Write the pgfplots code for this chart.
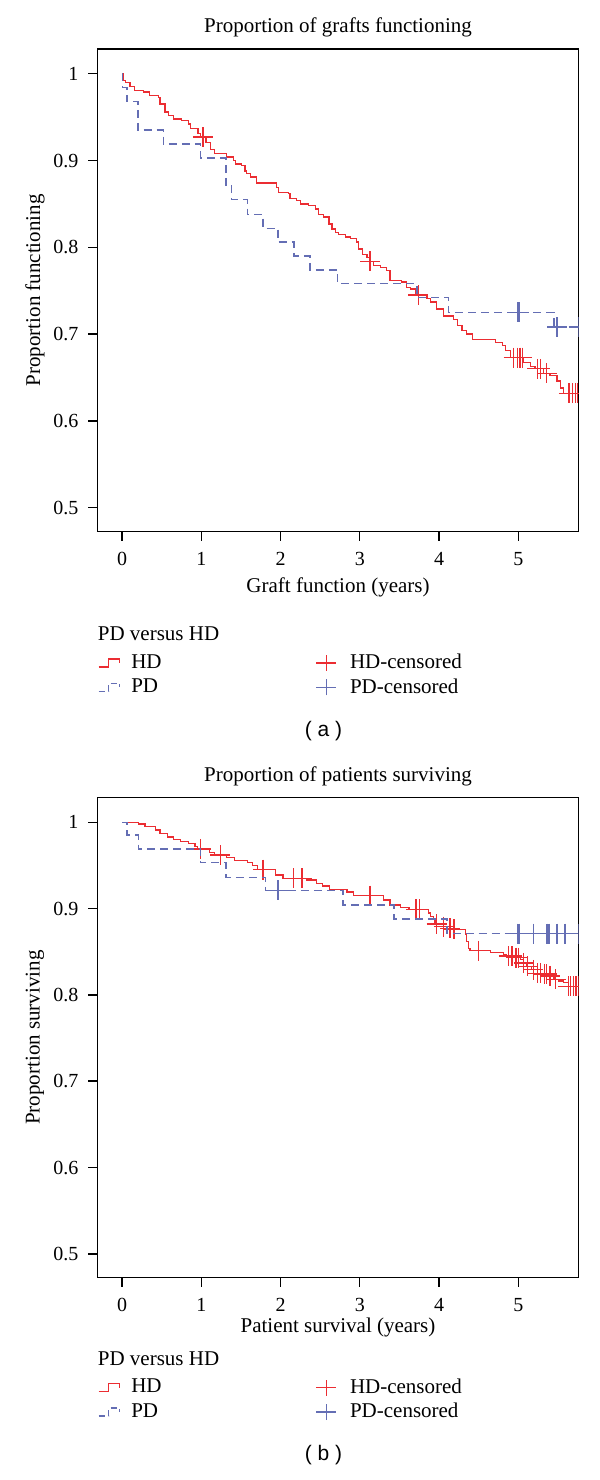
\documentclass[border=0pt]{standalone}
\usepackage{fontspec}
\setmainfont{Liberation Serif}
\newfontfamily\sansf{Liberation Sans}
\usepackage{pgfplots}
\pgfplotsset{compat=1.18}
\definecolor{hdred}{RGB}{235,45,50}
\definecolor{pdblue}{RGB}{100,110,180}
\newcommand{\fs}{\fontsize{10.5}{12.6}\selectfont}
\pgfplotsset{
  kmaxis/.style={
    scale only axis, width=240.5pt,
    xmin=-0.31, xmax=5.76, ymin=0.4725, ymax=1.0285,
    xtick={0,1,2,3,4,5}, xticklabels={0,1,2,3,4,5},
    ytick={0.5,0.6,0.7,0.8,0.9,1}, yticklabels={0.5,0.6,0.7,0.8,0.9,1},
    tick align=outside, major tick length=4.5pt,
    xtick pos=bottom, ytick pos=left,
    axis line style={line width=0.7pt},
    every tick/.style={black, line width=0.7pt},
    tick label style={font=\fontsize{10}{12}\selectfont},
    xticklabel style={yshift=-2.5pt},
    yticklabel style={xshift=-1.5pt},
    label style={font=\fs},
    xlabel style={anchor=center},
    ylabel style={at={(axis description cs:-0.13,0.5)}, anchor=center},
    clip marker paths=true,
    legend columns=2,
    legend cell align=left,
    legend style={draw=none, fill=none, font=\fs, anchor=north west, inner sep=0pt,
      nodes={inner sep=0pt, text depth=0.15em},
      /tikz/every even column/.append style={column sep=77pt}, row sep=3.5pt},
  },
  hdline/.style={hdred, line width=0.65pt, const plot, mark=none,
    legend image code/.code={\draw[hdred, line width=0.65pt] (0pt,-2pt) -- (5pt,-2pt) -- (5pt,2pt) -- (10.5pt,2pt) -- (10.5pt,0pt);
      \path (0pt,-4pt) (16pt,4pt);}},
  pdline/.style={pdblue, line width=0.7pt, const plot, mark=none, dash pattern=on 4pt off 2.5pt,
    legend image code/.code={\draw[pdblue, line width=0.7pt, dash pattern=on 3pt off 2pt] (0pt,-2pt) -- (5pt,-2pt) -- (5pt,2pt) -- (10.5pt,2pt) -- (10.5pt,0pt);
      \path (0pt,-4pt) (16pt,4pt);}},
  hdcens/.style={hdred, line width=0.65pt, only marks, mark=+, mark size=5pt,
    legend image code/.code={\draw[hdred, line width=0.65pt] (0pt,0pt) -- (10pt,0pt) (5pt,-4pt) -- (5pt,4pt);
      \path (0pt,-4pt) (16.5pt,4pt);}},
  pdcens/.style={pdblue, line width=0.7pt, only marks, mark=+, mark size=5pt,
    legend image code/.code={\draw[pdblue, line width=0.7pt] (0pt,0pt) -- (10pt,0pt) (5pt,-4pt) -- (5pt,4pt);
      \path (0pt,-4pt) (16.5pt,4pt);}},
}
\begin{document}
\begin{tikzpicture}
\useasboundingbox (0,0) rectangle (300pt,740pt);
% ---------------- Panel (a)
\begin{axis}[kmaxis, at={(48.75pt,474.2pt)}, anchor=south west, height=241.3pt,
  xlabel={Graft function (years)}, ylabel={Proportion functioning},
  xlabel style={at={(axis description cs:0.5,-0.116)}},
  legend style={at={(axis description cs:0,-0.253)}},
  extra description/.code={
    \node[font=\fs] at (axis description cs:0.5,1.045) {Proportion of grafts functioning};
    \node[font=\fs, anchor=west, inner sep=0pt] at (axis description cs:0,-0.212) {PD versus HD};
    \node[font=\sansf\fontsize{10.5}{12.6}\selectfont] at (axis description cs:0.47,-0.414) {( a )};
  }]
\addplot[hdline] coordinates {
(0,1) (0.01,0.992) (0.04,0.990) (0.10,0.985) (0.16,0.981) (0.27,0.979) (0.35,0.975)
(0.46,0.973) (0.48,0.965) (0.54,0.956) (0.585,0.952) (0.65,0.948) (0.75,0.946)
(0.84,0.942) (0.86,0.937) (0.96,0.931) (0.99,0.927) (1.06,0.921) (1.12,0.913)
(1.17,0.908) (1.32,0.904) (1.41,0.900) (1.43,0.896) (1.51,0.894) (1.55,0.888)
(1.57,0.885) (1.62,0.881) (1.70,0.874) (1.95,0.869) (1.97,0.863) (2.10,0.862)
(2.12,0.856) (2.20,0.854) (2.25,0.850) (2.35,0.848) (2.44,0.844) (2.48,0.838)
(2.54,0.835) (2.61,0.827) (2.65,0.821) (2.69,0.817) (2.73,0.815) (2.82,0.812)
(2.88,0.810) (2.96,0.806) (2.98,0.798) (3.03,0.792) (3.09,0.788) (3.12,0.784)
(3.17,0.779) (3.26,0.777) (3.34,0.773)
(3.38,0.762) (3.53,0.760) (3.59,0.754) (3.64,0.752) (3.70,0.745) (3.85,0.741)
(3.89,0.737) (3.97,0.729) (4.06,0.721) (4.18,0.717) (4.23,0.710) (4.29,0.704)
(4.35,0.700) (4.42,0.694) (4.71,0.690) (4.80,0.687) (4.84,0.681) (4.90,0.673)
(5.07,0.667) (5.15,0.663) (5.21,0.660) (5.32,0.655) (5.40,0.652) (5.49,0.646)
(5.53,0.638) (5.57,0.632) (5.76,0.632)};
\addlegendentry{HD}
\addplot[hdcens] coordinates {
(1.02,0.927) (3.13,0.784) (3.74,0.745) (4.94,0.673) (4.99,0.673) (5.02,0.673)
(5.05,0.673) (5.24,0.660) (5.28,0.660) (5.36,0.655) (5.64,0.632) (5.68,0.632)
(5.72,0.632) (5.75,0.632)};
\addlegendentry{HD-censored}
\addplot[pdline] coordinates {
(0,1) (0.005,0.984) (0.06,0.968) (0.20,0.935) (0.52,0.919) (0.99,0.903)
(1.31,0.871) (1.38,0.855) (1.58,0.838) (1.78,0.822) (1.97,0.806) (2.17,0.790)
(2.37,0.774) (2.72,0.758) (3.72,0.742) (4.12,0.725) (5.45,0.708) (5.76,0.708)};
\addlegendentry{PD}
\addplot[pdcens] coordinates {
(4.99,0.725) (5.01,0.725) (5.49,0.708) (5.76,0.708)};
\addlegendentry{PD-censored}
\end{axis}
% ---------------- Panel (b)
\begin{axis}[kmaxis, at={(48.75pt,101.2pt)}, anchor=south west, height=240pt,
  xlabel={Patient survival (years)}, ylabel={Proportion surviving},
  xlabel style={at={(axis description cs:0.5,-0.104)}},
  legend style={at={(axis description cs:0,-0.21)}},
  extra description/.code={
    \node[font=\fs] at (axis description cs:0.5,1.045) {Proportion of patients surviving};
    \node[font=\fs, anchor=west, inner sep=0pt] at (axis description cs:0,-0.168) {PD versus HD};
    \node[font=\sansf\fontsize{10.5}{12.6}\selectfont] at (axis description cs:0.47,-0.37) {( b )};
  }]
\addplot[hdline] coordinates {
(0,1) (0.21,0.998) (0.29,0.995) (0.42,0.991) (0.48,0.987) (0.57,0.983) (0.65,0.980)
(0.74,0.978) (0.84,0.975) (0.92,0.972) (0.95,0.969) (1.10,0.965) (1.17,0.962)
(1.32,0.959) (1.42,0.956) (1.58,0.953) (1.65,0.950) (1.71,0.945) (1.94,0.939)
(2.03,0.935) (2.33,0.933) (2.45,0.929) (2.53,0.926) (2.62,0.922) (2.84,0.919)
(2.92,0.915) (3.30,0.910) (3.38,0.904) (3.51,0.901) (3.62,0.899) (3.87,0.895)
(3.89,0.891) (3.93,0.887) (3.95,0.882) (4.06,0.879) (4.10,0.877) (4.16,0.876)
(4.33,0.870) (4.35,0.862) (4.37,0.854) (4.39,0.851) (4.65,0.849) (4.81,0.847)
(4.85,0.845) (4.94,0.843) (5.03,0.841) (5.07,0.837) (5.11,0.833) (5.17,0.829)
(5.24,0.825) (5.32,0.824) (5.38,0.822) (5.45,0.818) (5.51,0.816) (5.57,0.814)
(5.63,0.810) (5.76,0.810)};
\addlegendentry{HD}
\addplot[hdcens] coordinates {
(0.99,0.969) (1.24,0.962) (1.78,0.945) (2.16,0.935) (2.27,0.935) (3.13,0.915)
(3.71,0.899) (3.75,0.899) (3.97,0.882) (4.06,0.879) (4.14,0.877) (4.19,0.876)
(4.50,0.851) (4.88,0.845) (4.92,0.845) (4.97,0.843) (5.00,0.843) (5.07,0.837)
(5.12,0.833) (5.19,0.829) (5.24,0.825) (5.28,0.825) (5.33,0.824) (5.36,0.824)
(5.40,0.822) (5.47,0.818) (5.63,0.810) (5.66,0.810) (5.70,0.810) (5.73,0.810)
(5.76,0.810)};
\addlegendentry{HD-censored}
\addplot[pdline] coordinates {
(0,1) (0.06,0.985) (0.21,0.969) (0.99,0.953) (1.31,0.936) (1.81,0.921)
(2.79,0.904) (3.43,0.888) (4.10,0.871) (5.76,0.871)};
\addlegendentry{PD}
\addplot[pdcens] coordinates {
(1.97,0.921) (4.99,0.871) (5.01,0.871) (5.19,0.871) (5.36,0.871) (5.39,0.871)
(5.49,0.871) (5.59,0.871) (5.76,0.871)};
\addlegendentry{PD-censored}
\end{axis}
\end{tikzpicture}
\end{document}
